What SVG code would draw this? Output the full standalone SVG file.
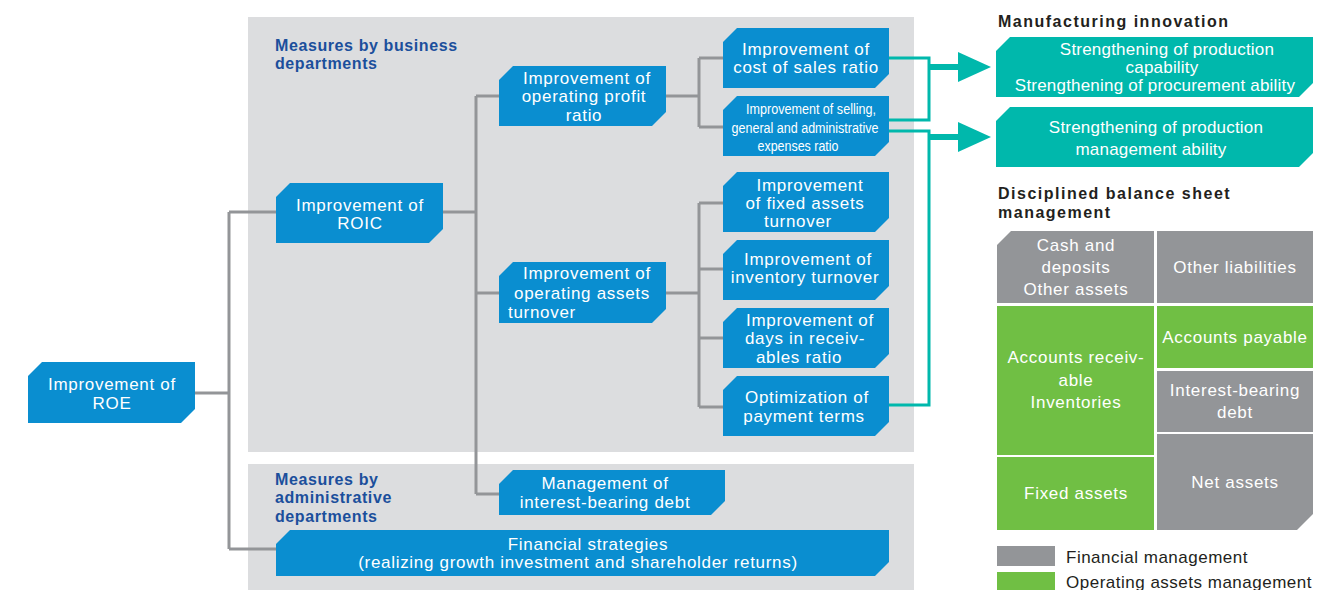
<svg xmlns="http://www.w3.org/2000/svg" width="1335" height="590" viewBox="0 0 1335 590">
<style>
.panel{fill:#dcdddf}
.node{fill:#0a8ed0}
.teal{fill:#00b8ac}
.gbox{fill:#939598}
.grbox{fill:#70bf44}
.t{font-family:"Liberation Sans",Arial,sans-serif;font-size:17px;fill:#fff;text-anchor:middle;letter-spacing:0.7px}
.tt{font-family:"Liberation Sans",Arial,sans-serif;font-size:17px;fill:#fff;text-anchor:middle;letter-spacing:0.2px}
.ts{font-family:"Liberation Sans",Arial,sans-serif;font-size:14px;fill:#fff;text-anchor:middle}
.hd{font-family:"Liberation Sans",Arial,sans-serif;font-size:16px;font-weight:bold;fill:#1b4f9c;letter-spacing:0.6px}
.hk{font-family:"Liberation Sans",Arial,sans-serif;font-size:16px;font-weight:bold;fill:#231f20;letter-spacing:1.5px}
.lg{font-family:"Liberation Sans",Arial,sans-serif;font-size:17px;fill:#231f20;letter-spacing:0.5px}
.gc{fill:none;stroke:#939598;stroke-width:3}
.tc{fill:none;stroke:#00b8ac;stroke-width:3}
.ta{fill:none;stroke:#00b8ac;stroke-width:6}
</style>
<defs>
<marker id="tarrow" markerUnits="userSpaceOnUse" markerWidth="34" markerHeight="30" refX="0" refY="15" orient="auto">
<path d="M0,0 L33,15 L0,30 Z" fill="#00b8ac"/>
</marker>
</defs>

<g id="panels">
<rect class="panel" x="248" y="17" width="666" height="435"/>
<rect class="panel" x="248" y="464" width="666" height="126"/>
<text class="hd" x="275" y="51">Measures by business</text>
<text class="hd" x="275" y="69">departments</text>
<text class="hd" x="275" y="485">Measures by</text>
<text class="hd" x="275" y="503">administrative</text>
<text class="hd" x="275" y="522">departments</text>
</g>

<g id="connectors">
<path class="gc" d="M195,393 H229 M229,212 V549 M229,212 H276 M229,549 H276"/>
<path class="gc" d="M443,212 H476 M476,96 V494 M476,96 H499 M476,293 H499 M476,494 H499"/>
<path class="gc" d="M666,96 H699 M699,58 V127 M699,58 H723 M699,127 H723"/>
<path class="gc" d="M666,293 H699 M699,203 V407 M699,203 H723 M699,269 H723 M699,338 H723 M699,407 H723"/>
<path class="tc" d="M889,58 H929 V120 H889"/>
<path class="tc" d="M889,131 H929 V405 H889"/>
<line class="ta" x1="929" y1="67" x2="958" y2="67" marker-end="url(#tarrow)"/>
<line class="ta" x1="929" y1="137" x2="958" y2="137" marker-end="url(#tarrow)"/>
</g>

<g id="roe">
<path class="node" d="M28,376 L42,362 H195 V409 L181,423 H28 Z"/>
<text class="t" x="112" y="390">Improvement of</text>
<text class="t" x="112" y="409">ROE</text>
</g>
<g id="roic">
<path class="node" d="M276,197 L290,183 H443 V229 L429,243 H276 Z"/>
<text class="t" x="360" y="211">Improvement of</text>
<text class="t" x="360" y="229">ROIC</text>
</g>
<g id="op-profit">
<path class="node" d="M499,80 L513,66 H666 V112 L652,126 H499 Z"/>
<text class="t" x="587" y="84">Improvement of</text>
<text class="t" x="584" y="102">operating profit</text>
<text class="t" x="584" y="121">ratio</text>
</g>
<g id="op-assets">
<path class="node" d="M499,276 L513,262 H666 V309 L652,323 H499 Z"/>
<text class="t" x="587" y="279">Improvement of</text>
<text class="t" x="582" y="299">operating assets</text>
<text class="t" x="542" y="318">turnover</text>
</g>
<g id="cost-sales">
<path class="node" d="M723,42 L737,28 H889 V74 L875,88 H723 Z"/>
<text class="t" x="806" y="55">Improvement of</text>
<text class="t" x="806" y="73">cost of sales ratio</text>
</g>
<g id="sga">
<path class="node" d="M723,110 L737,96 H889 V142 L875,156 H723 Z"/>
<text class="ts" x="811" y="114" textLength="130" lengthAdjust="spacingAndGlyphs">Improvement of selling,</text>
<text class="ts" x="805" y="133" textLength="147" lengthAdjust="spacingAndGlyphs">general and administrative</text>
<text class="ts" x="798" y="151" textLength="81" lengthAdjust="spacingAndGlyphs">expenses ratio</text>
</g>
<g id="fixed-assets">
<path class="node" d="M723,186 L737,172 H889 V218 L875,232 H723 Z"/>
<text class="t" x="810" y="191">Improvement</text>
<text class="t" x="805" y="209">of fixed assets</text>
<text class="t" x="798" y="227">turnover</text>
</g>
<g id="inventory">
<path class="node" d="M723,254 L737,240 H889 V286 L875,300 H723 Z"/>
<text class="t" x="808" y="265">Improvement of</text>
<text class="t" x="805" y="283">inventory turnover</text>
</g>
<g id="receivables">
<path class="node" d="M723,322 L737,308 H889 V354 L875,368 H723 Z"/>
<text class="t" x="810" y="326">Improvement of</text>
<text class="t" x="805" y="344">days in receiv-</text>
<text class="t" x="799" y="363">ables ratio</text>
</g>
<g id="payment">
<path class="node" d="M723,390 L737,376 H889 V422 L875,436 H723 Z"/>
<text class="t" x="807" y="403">Optimization of</text>
<text class="t" x="804" y="422">payment terms</text>
</g>
<g id="debt-mgmt">
<path class="node" d="M499,484 L513,470 H725 V501 L711,515 H499 Z"/>
<text class="t" x="605" y="489">Management of</text>
<text class="t" x="605" y="508">interest-bearing debt</text>
</g>
<g id="fin-strategies">
<path class="node" d="M276,544 L290,530 H889 V562 L875,576 H276 Z"/>
<text class="t" x="588" y="550">Financial strategies</text>
<text class="t" x="578" y="568">(realizing growth investment and shareholder returns)</text>
</g>

<g id="manufacturing">
<text class="hk" x="998" y="27">Manufacturing innovation</text>
</g>
<g id="production-capability">
<path class="teal" d="M996,51 L1010,37 H1313 V83 L1299,97 H996 Z"/>
<text class="tt" x="1167" y="55">Strengthening of production</text>
<text class="tt" x="1162" y="73">capability</text>
<text class="tt" x="1155" y="91">Strengthening of procurement ability</text>
</g>
<g id="production-management">
<path class="teal" d="M996,121 L1010,107 H1313 V153 L1299,167 H996 Z"/>
<text class="tt" x="1156" y="133">Strengthening of production</text>
<text class="tt" x="1151" y="155">management ability</text>
</g>

<g id="balance-sheet">
<text class="hk" x="998" y="199">Disciplined balance sheet</text>
<text class="hk" x="998" y="218">management</text>
<path class="gbox" d="M997,245 L1011,231 H1154 V303 H997 Z"/>
<text class="t" x="1076" y="251">Cash and</text>
<text class="t" x="1076" y="273">deposits</text>
<text class="t" x="1076" y="295">Other assets</text>
<rect class="gbox" x="1157" y="231" width="156" height="72"/>
<text class="t" x="1235" y="273">Other liabilities</text>
<rect class="grbox" x="997" y="306" width="157" height="149"/>
<text class="t" x="1076" y="363">Accounts receiv-</text>
<text class="t" x="1076" y="386">able</text>
<text class="t" x="1076" y="408">Inventories</text>
<rect class="grbox" x="997" y="457" width="157" height="73"/>
<text class="t" x="1076" y="499">Fixed assets</text>
<rect class="grbox" x="1157" y="306" width="156" height="62"/>
<text class="t" x="1235" y="343">Accounts payable</text>
<rect class="gbox" x="1157" y="371" width="156" height="61"/>
<text class="t" x="1235" y="396">Interest-bearing</text>
<text class="t" x="1235" y="418">debt</text>
<path class="gbox" d="M1157,434 H1313 V514 L1297,530 H1157 Z"/>
<text class="t" x="1235" y="488">Net assets</text>
</g>

<g id="legend">
<rect class="gbox" x="997" y="546" width="58" height="20"/>
<text class="lg" x="1066" y="563">Financial management</text>
<rect class="grbox" x="997" y="572" width="58" height="20"/>
<text class="lg" x="1066" y="588">Operating assets management</text>
</g>
</svg>
